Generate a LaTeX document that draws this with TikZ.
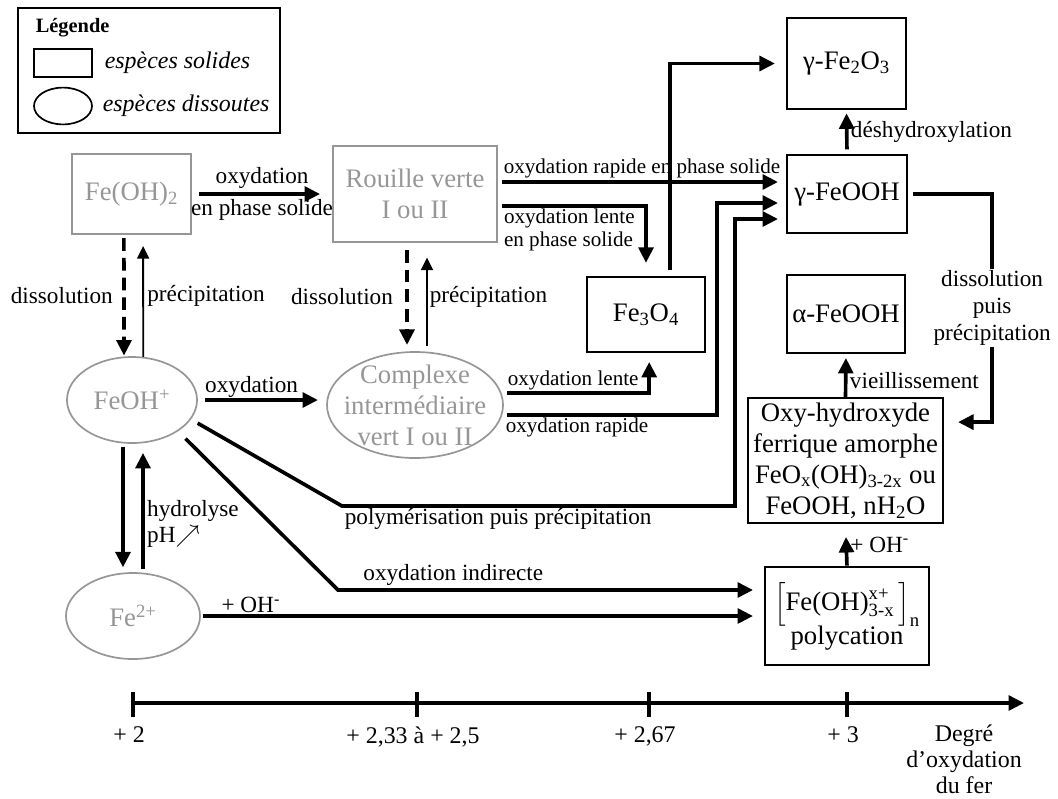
\documentclass[tikz,border=0pt]{standalone}
\usepackage{fontspec}
\setmainfont{Liberation Serif}
\usepackage{amsmath}
\usepackage{tikz}
\usetikzlibrary{arrows.meta,shapes.geometric}
\definecolor{gris}{RGB}{150,150,150}

\begin{document}
\begin{tikzpicture}[x=0.025cm, y=-0.025cm,
  every node/.style={font=\fontsize{16.5}{19}\selectfont, inner sep=2pt, outer sep=0pt},
  solide/.style={draw, line width=1.2pt, align=center, font=\fontsize{19}{22}\selectfont},
  solidegris/.style={solide, draw=gris, text=gris},
  dissoute/.style={ellipse, draw=gris, text=gris, line width=1.2pt, inner sep=0pt, font=\fontsize{19}{22}\selectfont},
  petit/.style={font=\fontsize{15}{16.5}\selectfont},
  fleche/.style={line width=2.6pt, -{Triangle[length=11pt,width=10.5pt]}},
  fin/.style={line width=1.3pt, -{Triangle[length=9pt,width=8.5pt]}},
  tirets/.style={fleche, dash pattern=on 9pt off 5pt}]

\useasboundingbox (0,0) rectangle (1058,798);

\draw[line width=1.2pt] (18,8) rectangle (280,133);
\node[anchor=west, font=\fontsize{14.5}{17}\selectfont\bfseries] (legende) at (33,28) {Légende};
\node[draw, line width=1.2pt, minimum width=1.45cm, minimum height=0.7cm] (exsolide) at (63,63) {};
\node[ellipse, draw, line width=1.2pt, minimum width=1.45cm, minimum height=0.92cm] (exdissoute) at (63,106) {};
\node[anchor=west, font=\fontsize{17}{20}\selectfont\itshape] (txtsolide) at (102,63) {espèces solides};
\node[anchor=west, font=\fontsize{17}{20}\selectfont\itshape] (txtdissoute) at (100,106) {espèces dissoutes};

\node[solidegris, minimum width=2.98cm, minimum height=2cm] (feoh2) at (131.5,194) {Fe(OH)\textsubscript{2}};
\node[solidegris, minimum width=4.1cm, minimum height=2.4cm] (rouille) at (415,194) {Rouille verte\\I ou II};
\node[dissoute, minimum width=3.25cm, minimum height=2.15cm] (feohp) at (132,400) {FeOH\textsuperscript{+}};
\node[dissoute, minimum width=4.4cm, minimum height=2.65cm,
  label={[text=gris, align=center, font=\fontsize{19}{22}\selectfont]center:Complexe\\intermédiaire\\vert I ou II}] (complexe) at (415,405) {};
\node[dissoute, minimum width=3.35cm, minimum height=2.15cm] (fe2p) at (133,616) {Fe\textsuperscript{2+}};

\node[solide, minimum width=2.95cm, minimum height=1.88cm] (fe3o4) at (646,314.5) {Fe\textsubscript{3}O\textsubscript{4}};
\node[solide, minimum width=2.98cm, minimum height=2.28cm] (gfe2o3) at (846.5,63.5) {γ-Fe\textsubscript{2}O\textsubscript{3}};
\node[solide, minimum width=3cm, minimum height=1.95cm] (gfeooh) at (847,194) {γ-FeOOH};
\node[solide, minimum width=2.95cm, minimum height=1.95cm] (afeooh) at (846,314) {α-FeOOH};
\node[solide, minimum width=4.88cm, minimum height=3.12cm] (oxy) at (845.5,460.5) {Oxy-hydroxyde\\ferrique amorphe\\FeO\textsubscript{x}(OH)\textsubscript{3-2x} ou\\FeOOH, nH\textsubscript{2}O};
\node[solide, minimum width=4.1cm, minimum height=2.45cm] (polyc) at (847,616) {$\Big[\text{Fe(OH)}^{\text{x+}}_{\text{3-x}}\,\Big]_{\text{n}}$\\[-2pt]polycation};

\draw[fleche, shorten <=5.7pt, shorten >=9.2pt] (feoh2) -- (rouille) node[midway, above=2pt] {oxydation} node[midway, below=2pt] {en phase solide};
\draw[tirets, shorten <=3pt, shorten >=1pt] ([xshift=-0.19cm]feoh2.south) -- ([xshift=-0.2cm]feohp.north) node[midway, left=6pt] {dissolution};
\draw[fin, shorten >=8.5pt] ([xshift=0.28cm]feohp.north) -- ([xshift=0.29cm]feoh2.south) node[midway, right=1pt] {précipitation};

\draw[tirets, shorten <=5.7pt, shorten >=5pt] ([xshift=-0.2cm]rouille.south) -- ([xshift=-0.2cm]complexe.north) node[midway, left=8pt] {dissolution};
\draw[fin, shorten <=4pt, shorten >=11pt] ([xshift=0.3cm]complexe.north) -- ([xshift=0.3cm]rouille.south) node[midway, right] {précipitation};

\draw[fleche, shorten <=5.7pt, shorten >=6.4pt] (feohp.east) -- (feohp.east -| complexe.west) node[pos=0.42, above] {oxydation};

\draw[fleche, shorten <=3.5pt, shorten >=6.4pt] ([yshift=0.3cm]rouille.east) -- ([yshift=0.3cm]gfeooh.west) node[midway, above=1pt, petit] {oxydation rapide en phase solide};
\draw[fleche, shorten <=3.5pt, shorten >=10pt] ([yshift=-0.3cm]rouille.east) node[below right, xshift=3pt, align=left, petit] {oxydation lente\\en phase solide} -| (fe3o4.north);
\draw[fleche, shorten <=5pt, shorten >=8.5pt] ([xshift=0.6cm]fe3o4.north) |- (gfe2o3.west);

\draw[fleche, shorten <=3pt, shorten >=7pt] ([yshift=0.3cm]complexe.east) -| ([xshift=0.08cm]fe3o4.south) node[pos=0.24, above, petit] {oxydation lente};
\draw[fleche, shorten <=3pt, shorten >=6.4pt] ([yshift=-0.25cm]complexe.east) node[below right, petit] {oxydation rapide} -| ([xshift=-1.75cm,yshift=-0.225cm]gfeooh.west) -- ([yshift=-0.225cm]gfeooh.west);

\draw[fleche, shorten <=6pt, shorten >=6.4pt] (feohp.-18) -- (342,506) node[below right] {polymérisation puis précipitation} -- (735,506) |- ([yshift=-0.625cm]gfeooh.west);
\draw[fleche, shorten <=8pt, shorten >=8.5pt] (feohp.-34) -- (338,590) -- ([yshift=0.65cm]polyc.west) node[pos=0.27, above=1pt] {oxydation indirecte};
\draw[fleche, shorten <=2pt, shorten >=8.5pt] (fe2p.east) -- (polyc.west |- fe2p.east) node[pos=0.09, above] {+ OH\textsuperscript{-}};

\draw[fleche, shorten <=3pt, shorten >=4pt] ([xshift=-0.225cm]feohp.south) -- ([xshift=-0.25cm]fe2p.north);
\draw[fleche, shorten <=3pt, shorten >=7pt] ([xshift=0.25cm]fe2p.north) -- ([xshift=0.275cm]feohp.south) node[midway, right=1pt, yshift=-0.4cm, align=left, font=\fontsize{16.5}{18}\selectfont] {hydrolyse\\pH$\nearrow$};

\draw[fleche, shorten <=4pt, shorten >=3pt] (gfeooh.north) -- (gfe2o3.south) node[midway, right=1pt] {déshydroxylation};
\draw[fleche, shorten >=3.5pt] (oxy.north) -- (afeooh.south) node[midway, right=1pt, yshift=-0.12cm] {vieillissement};
\draw[fleche, shorten <=1pt, shorten >=10pt] (polyc.north) -- (oxy.south) node[midway, right=1pt] {+ OH\textsuperscript{-}};
\draw[fleche, shorten <=4pt, shorten >=10.6pt] (gfeooh.east) -| ([xshift=1.225cm,yshift=0.96cm]oxy.east) node[pos=0.75, fill=white, align=center, inner sep=1pt, font=\fontsize{16.5}{19}\selectfont] {dissolution\\puis\\précipitation} -- ([yshift=0.96cm]oxy.east);

\draw[fleche] (133,703) -- (1024,703);
\foreach \x/\t in {133/{+ 2}, 417/{+ 2,33 à + 2,5}, 649/{+ 2,67}, 847/{+ 3}} {
  \draw[line width=2.6pt] (\x,692) -- (\x,717);
  \node[anchor=north, font=\fontsize{17}{19}\selectfont] (grad\x) at (\x-4,724) {\t};
}
\node[anchor=north, align=center, font=\fontsize{17}{18.5}\selectfont] (degre) at (964,722) {Degré\\d’oxydation\\du fer};
\end{tikzpicture}
\end{document}
